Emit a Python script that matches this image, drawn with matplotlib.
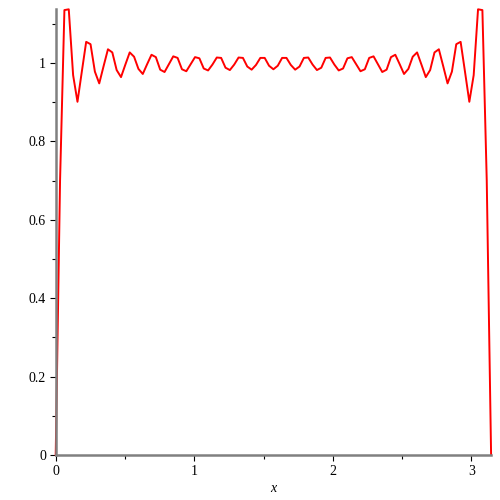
import numpy as np
import matplotlib
matplotlib.use("Agg")
import matplotlib.pyplot as plt
from matplotlib.ticker import MultipleLocator

# partial sum curve, sampled at 101 evenly spaced points on [0, pi]
y_vals = [
    0.000, 0.700, 1.135, 1.137, 0.969, 0.901, 0.978, 1.054, 1.048, 0.978,
    0.948, 0.992, 1.035, 1.027, 0.982, 0.964, 0.996, 1.027, 1.016, 0.985,
    0.972, 0.997, 1.021, 1.015, 0.983, 0.977, 0.997, 1.017, 1.013, 0.984,
    0.979, 0.997, 1.015, 1.012, 0.986, 0.981, 0.996, 1.014, 1.013, 0.988,
    0.982, 0.996, 1.014, 1.013, 0.991, 0.983, 0.995, 1.013, 1.013, 0.993,
    0.984,
    0.993, 1.013, 1.013, 0.995, 0.983, 0.991, 1.013, 1.014, 0.996, 0.982,
    0.988, 1.013, 1.014, 0.996, 0.981, 0.986, 1.012, 1.015, 0.997, 0.979,
    0.984, 1.013, 1.017, 0.997, 0.977, 0.983, 1.015, 1.021, 0.997, 0.972,
    0.985, 1.016, 1.027, 0.996, 0.964, 0.982, 1.027, 1.035, 0.992, 0.948,
    0.978, 1.048, 1.054, 0.978, 0.901, 0.969, 1.137, 1.135, 0.700, 0.000,
]
x_vals = np.linspace(0, np.pi, len(y_vals))

x_major = [0, 1, 2, 3]
y_major = [0, 0.2, 0.4, 0.6, 0.8, 1]

plt.rcParams['font.family'] = ['Liberation Serif', 'DejaVu Serif']

fig = plt.figure(figsize=(5, 5), dpi=100)
ax = fig.add_axes([0.1114, 0.09, 0.8708, 0.8914])

ax.plot(x_vals, y_vals, color='#ff0000', linewidth=1.4, clip_on=False)

ax.set_xlim(0, np.pi)
ax.set_ylim(0, max(y_vals))

for side in ['top', 'right']:
    ax.spines[side].set_visible(False)
for side in ['left', 'bottom']:
    ax.spines[side].set_color('#808080')
    ax.spines[side].set_linewidth(1.8)

ax.set_xticks(x_major)
ax.set_xticklabels([str(v) for v in x_major])
ax.set_yticks(y_major)
ax.set_yticklabels(['0', '0.2', '0.4', '0.6', '0.8', '1'])
ax.xaxis.set_minor_locator(MultipleLocator(0.5))
ax.yaxis.set_minor_locator(MultipleLocator(0.1))

ax.tick_params(axis='both', which='major', direction='out', length=4,
               width=0.8, color='black', labelsize=10, pad=3)
ax.tick_params(axis='both', which='minor', direction='out', length=3,
               width=0.8, color='black')

ax.set_xlabel('x', fontstyle='italic', fontsize=10, labelpad=3)

fig.savefig('out.png', dpi=100)
